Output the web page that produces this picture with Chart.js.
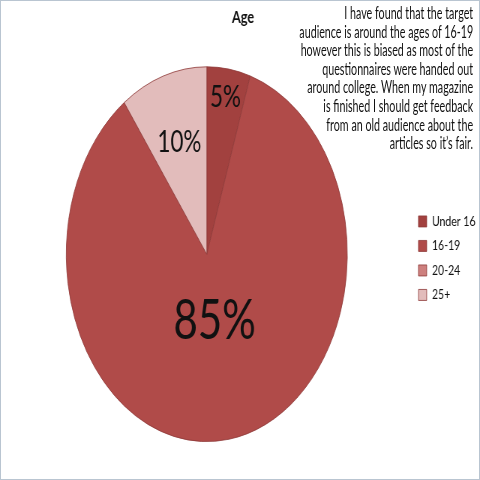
<!DOCTYPE html>
<html lang="en">
<head>
    <meta charset="UTF-8">
    <title>Age</title>
    <style>
        html, body {
            margin: 0;
            padding: 0;
            background: #ffffff;
        }
        .frame {
            position: relative;
            width: 478px;
            height: 478px;
            border: 1px solid #b9c5d1;
            overflow: hidden;
            background: #ffffff;
        }
        /* the original picture is squeezed sideways, so draw wide and squeeze */
        .wide {
            position: absolute;
            left: -1px;
            top: -1px;
            width: 640px;
            height: 480px;
            transform: scaleX(0.75);
            transform-origin: 0 0;
        }
        .note {
            position: absolute;
            right: 9px;
            top: 4px;
            text-align: right;
            white-space: nowrap;
            font-family: Lato, "Open Sans", sans-serif;
            font-size: 17px;
            line-height: 18.6px;
            color: #111111;
            transform: scaleX(0.84);
            transform-origin: right top;
        }
    </style>
</head>
<body>

<div class="frame">
    <div class="wide">
        <canvas id="agePie" width="640" height="480"></canvas>
        <div class="note">I have found that the target<br>audience is around the ages of 16-19<br>however this is biased as most of the<br>questionnaires were handed out<br>around college. When my magazine<br>is finished I should get feedback<br>from an old audience about the<br>articles so it’s fair.</div>
    </div>
</div>

<script src="https://cdn.jsdelivr.net/npm/chart.js"></script>
<script>
    // data
    const ageGroups = ['Under 16', '16-19', '20-24', '25+'];
    const agePercent = [5, 85, 0, 10];
    const sliceColours = ['#a2413f', '#b04b49', '#cd807e', '#e2bcbb'];

    // percent labels drawn on the slices (radius fraction / font size per slice)
    const labelSpots = [0.85, 0.36, 0.5, 0.63];
    const labelSizes = [30, 56, 30, 30];

    const sliceLabels = {
        id: 'sliceLabels',
        afterDatasetsDraw(chart) {
            const ctx = chart.ctx;
            const meta = chart.getDatasetMeta(0);
            meta.data.forEach(function (arc, i) {
                const v = chart.data.datasets[0].data[i];
                if (!v) return;
                const p = arc.getProps(['x', 'y', 'startAngle', 'endAngle', 'outerRadius'], true);
                const mid = (p.startAngle + p.endAngle) / 2;
                const r = p.outerRadius * labelSpots[i];
                ctx.save();
                ctx.font = labelSizes[i] + 'px Lato, "Open Sans", sans-serif';
                ctx.fillStyle = '#111111';
                ctx.textAlign = 'center';
                ctx.textBaseline = 'middle';
                ctx.fillText(v + '%', p.x + Math.cos(mid) * r, p.y + Math.sin(mid) * r);
                ctx.restore();
            });
        }
    };

    const ctx = document.getElementById('agePie').getContext('2d');
    const chart = new Chart(ctx, {
        type: 'pie',
        data: {
            labels: ageGroups,
            datasets: [{
                data: agePercent,
                backgroundColor: sliceColours,
                borderColor: '#8e3a38',
                borderWidth: 0.8
            }]
        },
        options: {
            responsive: false,
            animation: false,
            layout: {
                padding: { left: 4, right: -4, top: 0, bottom: 38 }
            },
            plugins: {
                title: {
                    display: true,
                    text: 'Age',
                    color: '#111111',
                    font: { family: 'Lato', size: 17, weight: 'bold' },
                    padding: { top: 7, bottom: 39 }
                },
                legend: {
                    position: 'right',
                    title: {
                        display: true,
                        text: ' ',
                        font: { size: 12 },
                        padding: 30
                    },
                    labels: {
                        boxWidth: 11,
                        boxHeight: 11,
                        padding: 10.5,
                        color: '#111111',
                        font: { family: 'Lato', size: 14 }
                    }
                },
                tooltip: { enabled: false }
            }
        },
        plugins: [sliceLabels]
    });
</script>

</body>
</html>
